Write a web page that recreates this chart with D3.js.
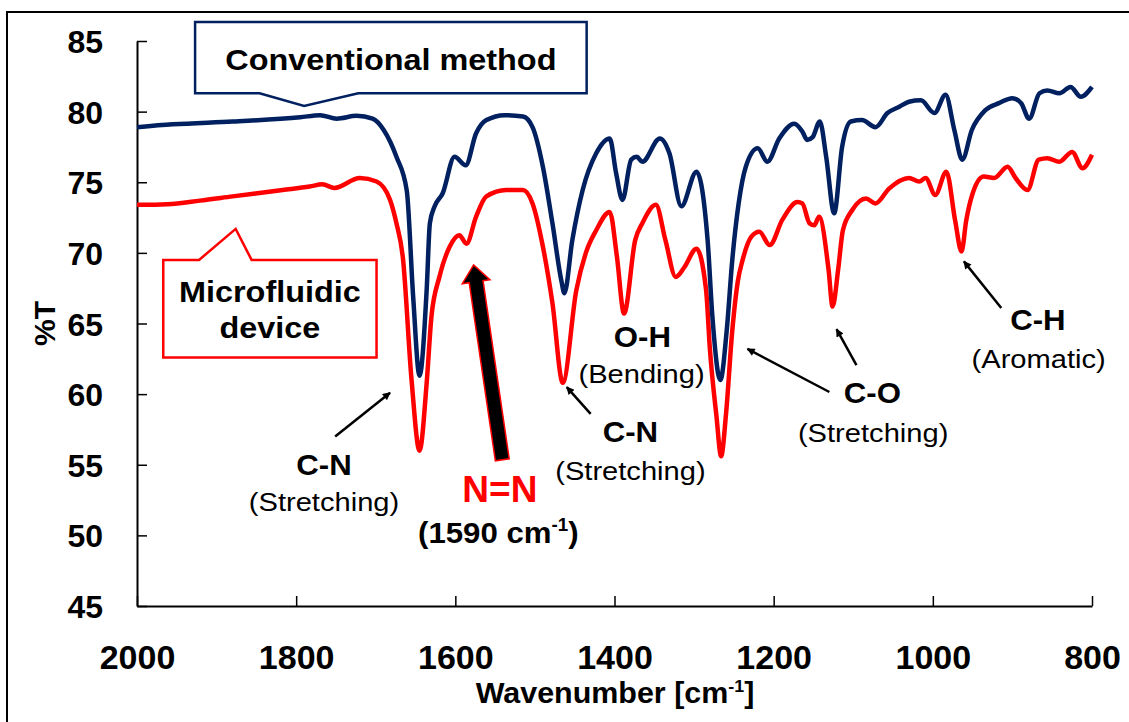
<!DOCTYPE html>
<html>
<head>
<meta charset="utf-8">
<script src="https://cdn.jsdelivr.net/npm/d3@7"></script>
<style>
  body { margin: 0; background: #fff; }
  svg { display: block; }
  text { font-family: "Liberation Sans", Arial, sans-serif; }
</style>
</head>
<body>
<svg id="chart" width="1129" height="722"></svg>
<script>
// Axis ticks
const xTicks = [2000, 1800, 1600, 1400, 1200, 1000, 800];
const yTicks = [45, 50, 55, 60, 65, 70, 75, 80, 85];

// FT-IR spectrum, conventional method (wavenumber cm-1, %T)
const convWn = [2000, 1955, 1880, 1795, 1770, 1749, 1724, 1704, 1690, 1674, 1661, 1653, 1645, 1636, 1632, 1626,
  1616, 1601, 1587, 1574, 1561, 1538, 1515, 1503, 1490, 1478, 1467, 1463, 1453, 1440, 1423, 1406, 1398, 1390,
  1379, 1372, 1365, 1343, 1331, 1316, 1297, 1283, 1277, 1267, 1259, 1252, 1244, 1235, 1220, 1208, 1193, 1174,
  1164, 1158, 1151, 1142, 1134, 1124, 1114, 1103, 1089, 1072, 1057, 1042, 1030, 1015, 998, 984, 973, 963, 951,
  934, 917, 900, 889, 879, 866, 856, 841, 827, 814, 800];
const convT = [78.9, 79.1, 79.3, 79.6, 79.75, 79.5, 79.7, 79.5, 78.7, 76.8, 74.4, 66.9, 61.3, 67.4, 72.1, 73.3,
  74.2, 76.8, 76.2, 78.45, 79.4, 79.75, 79.65, 78.9, 76.1, 72.1, 68.1, 67.15, 70.9, 74.45, 77.05, 78.1, 75.65, 73.75,
  76.6, 76.8, 76.45, 78.1, 77.05, 73.3, 75.75, 70.9, 65.5, 61.0, 64.5, 69.5, 73.5, 76.1, 77.4, 76.45, 78.1, 79.15,
  78.6, 78.0, 78.2, 79.3, 76.8, 72.8, 77.5, 79.3, 79.4, 78.9, 79.9, 80.35, 80.7, 80.8, 79.9, 81.2, 78.7, 76.6, 78.7,
  80.1, 80.6, 80.95, 80.6, 79.5, 81.3, 81.5, 81.3, 81.75, 81.05, 81.75];

// FT-IR spectrum, microfluidic device (wavenumber cm-1, %T)
const microWn = [2000, 1962, 1921, 1880, 1817, 1783, 1767, 1752, 1720, 1699, 1682, 1674, 1666, 1655, 1645, 1636,
  1630, 1620, 1607, 1595, 1586, 1574, 1561, 1536, 1515, 1503, 1490, 1478, 1465, 1448, 1436, 1423, 1406, 1397, 1388,
  1374, 1365, 1348, 1336, 1323, 1312, 1297, 1285, 1280, 1272, 1266, 1260, 1252, 1245, 1239, 1228, 1218, 1205, 1189,
  1170, 1164, 1155, 1149, 1143, 1131, 1126, 1119, 1113, 1101, 1084, 1072, 1055, 1030, 1017, 1009, 997, 983, 972,
  964, 958, 950, 936, 923, 906, 896, 881, 867, 856, 841, 825, 812, 800];
const microT = [73.4, 73.45, 73.7, 74.0, 74.45, 74.7, 74.85, 74.6, 75.3, 75.05, 73.75, 72.1, 69.7, 61.0, 56.0, 60.8,
  65.5, 68.3, 70.45, 71.25, 70.65, 72.55, 74.0, 74.45, 74.45, 73.5, 70.45, 66.45, 60.8, 67.35, 70.0, 71.6, 72.9, 69.75,
  65.7, 70.9, 72.1, 73.4, 70.9, 68.3, 69.0, 70.3, 67.4, 63.1, 58.5, 55.6, 58.5, 64.5, 68.0, 69.5, 71.15, 71.5, 70.55,
  72.35, 73.6, 73.5, 72.1, 71.95, 72.55, 68.8, 66.2, 68.8, 71.6, 73.05, 73.85, 73.5, 74.55, 75.3, 75.05, 75.3, 74.1,
  75.75, 72.3, 70.1, 72.3, 74.2, 75.4, 75.3, 76.1, 75.3, 74.45, 76.6, 76.7, 76.45, 77.15, 76.0, 76.95];

// Band assignments: [label, bold?, wavenumber, %T (baseline)]
const bandLabels = [
  ["C-N", true, 1765, 54.25], ["(Stretching)", false, 1765, 51.7],
  ["O-H", true, 1365, 63.35], ["(Bending)", false, 1366, 60.8],
  ["C-N", true, 1380, 56.6], ["(Stretching)", false, 1380, 53.9],
  ["C-O", true, 1076, 59.35], ["(Stretching)", false, 1075, 56.6],
  ["C-H", true, 868, 64.55], ["(Aromatic)", false, 867, 61.85]
];
// Pointer arrows: [from wavenumber, from %T, to wavenumber, to %T]
const bandArrows = [
  [1751, 57.0, 1682, 60.1],
  [1430, 58.6, 1460, 60.5],
  [1130, 60.15, 1233, 63.2],
  [1096, 62.05, 1121, 64.6],
  [914, 66.1, 961, 69.4]
];
// Azo band marker: arrow base and tip (wavenumber, %T)
const azoArrow = [1541, 55.35, 1577, 69.15];

const svg = d3.select("#chart");
const x = d3.scaleLinear().domain([2000, 800]).range([137, 1092]);
const y = d3.scaleLinear().domain([45, 85]).range([606, 41]);
const NAVY = "#002060", RED = "#ff0000";

// outer frame
svg.append("rect").attr("x", 7).attr("y", 12).attr("width", 1140).attr("height", 730)
  .attr("fill", "none").attr("stroke", "#000").attr("stroke-width", 2);

// axes
const yAxis = svg.append("g").attr("transform", `translate(${x(2000)},0)`)
  .call(d3.axisLeft(y).tickValues(yTicks).tickSize(-10).tickSizeOuter(0).tickPadding(34).tickFormat(d3.format("d")));
const xAxis = svg.append("g").attr("transform", `translate(0,${y(45)})`)
  .call(d3.axisBottom(x).tickValues(xTicks).tickSize(-10).tickSizeOuter(0).tickPadding(39).tickFormat(d3.format("d")));
[xAxis, yAxis].forEach(g => {
  g.attr("font-family", null).attr("font-size", null);
  g.selectAll("path.domain").attr("stroke", "#000").attr("stroke-width", 2);
  g.selectAll(".tick line").attr("stroke", "#000").attr("stroke-width", 1.5);
  g.selectAll(".tick text").attr("fill", "#000").style("font-weight", "bold");
});
yAxis.selectAll(".tick text").style("font-size", "32px").attr("dy", "0.36em");
xAxis.selectAll(".tick text").style("font-size", "34px");

// axis titles
const xt = svg.append("g").attr("transform", "translate(615,703) scale(1.05,1)")
  .append("text").attr("text-anchor", "middle").style("font-size", "29px").style("font-weight", "bold");
xt.append("tspan").text("Wavenumber [cm");
xt.append("tspan").text("-1").style("font-size", "17px").attr("dy", -11);
xt.append("tspan").text("]").attr("dy", 11);

svg.append("text").attr("transform", `translate(55,${y(65)}) rotate(-90)`).attr("text-anchor", "middle")
  .style("font-size", "30px").style("font-weight", "bold").text("%T");

// spectra
const line = d3.line().x(d => x(d[0])).y(d => y(d[1])).curve(d3.curveMonotoneX);
svg.append("path").datum(microWn.map((w, i) => [w, microT[i]])).attr("d", line)
  .attr("fill", "none").attr("stroke", RED).attr("stroke-width", 4.5).attr("stroke-linejoin", "round");
svg.append("path").datum(convWn.map((w, i) => [w, convT[i]])).attr("d", line)
  .attr("fill", "none").attr("stroke", NAVY).attr("stroke-width", 4.5).attr("stroke-linejoin", "round");

// text helper with horizontal stretch
function label(str, wn, t, size, bold, fill, sx) {
  const g = svg.append("g").attr("transform", `translate(${x(wn)},${y(t)}) scale(${sx},1)`);
  return g.append("text").attr("text-anchor", "middle").attr("fill", fill)
    .style("font-size", size + "px").style("font-weight", bold ? "bold" : "normal").text(str);
}

// callout: conventional method (box in data units, pointer down to the spectrum)
{
  const L = x(1927), R = x(1435), T = y(86.35), B = y(81.3);
  const p = [[L, T], [R, T], [R, B], [x(1722), B], [x(1790), y(80.4)], [x(1846), B], [L, B]];
  svg.append("path").attr("d", "M" + p.join("L") + "Z").attr("fill", "#fff")
    .attr("stroke", NAVY).attr("stroke-width", 2.5);
  label("Conventional method", 1681, 82.95, 30, true, "#000", 1.08);
}
// callout: microfluidic device (pointer up to the spectrum)
{
  const L = x(1967), R = x(1699), T = y(69.5), B = y(62.6);
  const p = [[L, T], [x(1922), T], [x(1876), y(71.7)], [x(1856), T], [R, T], [R, B], [L, B]];
  svg.append("path").attr("d", "M" + p.join("L") + "Z").attr("fill", "#fff")
    .attr("stroke", RED).attr("stroke-width", 2.5);
  label("Microfluidic", 1833, 66.5, 30, true, "#000", 1.08);
  label("device", 1833, 63.95, 30, true, "#000", 1.08);
}

// arrow marker
svg.append("defs").append("marker").attr("id", "head").attr("viewBox", "0 0 10 10")
  .attr("refX", 9).attr("refY", 5).attr("markerWidth", 10).attr("markerHeight", 8)
  .attr("markerUnits", "userSpaceOnUse").attr("orient", "auto")
  .append("path").attr("d", "M0,0L10,5L0,10Z").attr("fill", "#000");

bandArrows.forEach(a => {
  svg.append("line").attr("x1", x(a[0])).attr("y1", y(a[1])).attr("x2", x(a[2])).attr("y2", y(a[3]))
    .attr("stroke", "#000").attr("stroke-width", 2.5).attr("marker-end", "url(#head)");
});

bandLabels.forEach(d => label(d[0], d[2], d[3], d[1] ? 30 : 26, d[1], "#000", d[1] ? 1.04 : 1.12));

// N=N marker: thick black arrow with red outline
{
  const x0 = x(azoArrow[0]), y0 = y(azoArrow[1]), x1 = x(azoArrow[2]), y1 = y(azoArrow[3]);
  const dx = x1 - x0, dy = y1 - y0, len = Math.hypot(dx, dy);
  const ux = dx / len, uy = dy / len, px = -uy, py = ux;
  const sw = 14, hw = 28, hl = 17;
  const hx = x0 + ux * (len - hl), hy = y0 + uy * (len - hl);
  const pts = [
    [x0 + px * sw / 2, y0 + py * sw / 2], [hx + px * sw / 2, hy + py * sw / 2], [hx + px * hw / 2, hy + py * hw / 2],
    [x1, y1], [hx - px * hw / 2, hy - py * hw / 2], [hx - px * sw / 2, hy - py * sw / 2], [x0 - px * sw / 2, y0 - py * sw / 2]
  ];
  svg.append("path").attr("d", "M" + pts.join("L") + "Z").attr("fill", "#000")
    .attr("stroke", RED).attr("stroke-width", 1.5).attr("stroke-linejoin", "miter");
}
label("N=N", 1544, 52.35, 37, true, RED, 1.0);
{
  const t = label("", 1546, 49.45, 30, true, "#000", 1.04);
  t.append("tspan").text("(1590 cm");
  t.append("tspan").text("-1").style("font-size", "18px").attr("dy", -12);
  t.append("tspan").text(")").attr("dy", 12);
}
</script>
</body>
</html>
